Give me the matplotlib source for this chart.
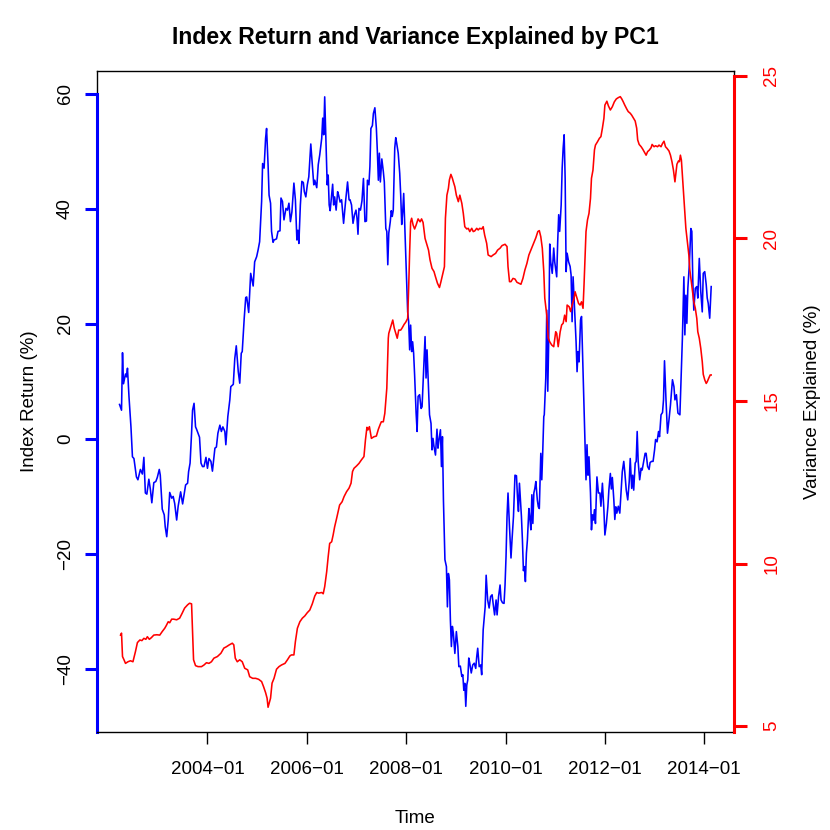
import matplotlib
matplotlib.use("Agg")
import matplotlib.pyplot as plt
from matplotlib.lines import Line2D

plt.rcParams['font.family'] = ['Liberation Sans', 'DejaVu Sans']

# Index return (%) : decimal year, value
ret_t = [2002.23, 2002.27, 2002.29, 2002.31, 2002.35, 2002.37, 2002.39, 2002.42, 2002.46, 2002.49,
         2002.52, 2002.57, 2002.60, 2002.65, 2002.69, 2002.72, 2002.75, 2002.78, 2002.82, 2002.85,
         2002.88, 2002.92, 2002.96, 2002.99, 2003.03, 2003.05, 2003.09, 2003.13, 2003.15, 2003.18,
         2003.21, 2003.24, 2003.28, 2003.31, 2003.34, 2003.38, 2003.41, 2003.46, 2003.50, 2003.53,
         2003.56, 2003.60, 2003.62, 2003.65, 2003.68, 2003.70, 2003.73, 2003.76, 2003.78, 2003.81,
         2003.84, 2003.87, 2003.90, 2003.93, 2003.97, 2004.00, 2004.03, 2004.07, 2004.10, 2004.15,
         2004.18, 2004.21, 2004.25, 2004.28, 2004.31, 2004.35, 2004.37, 2004.41, 2004.45, 2004.47,
         2004.52, 2004.55, 2004.58, 2004.62, 2004.65, 2004.68, 2004.70, 2004.74, 2004.77, 2004.79,
         2004.83, 2004.87, 2004.92, 2004.95, 2004.99, 2005.02, 2005.05, 2005.09, 2005.11, 2005.14,
         2005.17, 2005.19, 2005.22, 2005.24, 2005.27, 2005.29, 2005.32, 2005.34, 2005.39, 2005.42,
         2005.46, 2005.48, 2005.51, 2005.54, 2005.58, 2005.61, 2005.64, 2005.67, 2005.70, 2005.74,
         2005.77, 2005.80, 2005.82, 2005.84, 2005.87, 2005.90, 2005.93, 2005.95, 2005.98, 2006.01,
         2006.04, 2006.08, 2006.11, 2006.14, 2006.16, 2006.20, 2006.23, 2006.26, 2006.30, 2006.32,
         2006.34, 2006.36, 2006.39, 2006.41, 2006.43, 2006.45, 2006.47, 2006.50, 2006.52, 2006.54,
         2006.56, 2006.59, 2006.62, 2006.64, 2006.67, 2006.70, 2006.74, 2006.78, 2006.82, 2006.85,
         2006.87, 2006.90, 2006.93, 2006.96, 2006.99, 2007.01, 2007.03, 2007.05, 2007.08, 2007.11,
         2007.14, 2007.17, 2007.20, 2007.22, 2007.25, 2007.27, 2007.29, 2007.32, 2007.34, 2007.37,
         2007.40, 2007.42, 2007.44, 2007.46, 2007.48, 2007.51, 2007.54, 2007.56, 2007.59, 2007.61,
         2007.63, 2007.65, 2007.68, 2007.70, 2007.72, 2007.74, 2007.77, 2007.79, 2007.81, 2007.84,
         2007.87, 2007.89, 2007.91, 2007.93, 2007.95, 2007.97, 2007.99, 2008.01, 2008.03, 2008.05,
         2008.07, 2008.09, 2008.11, 2008.13, 2008.15, 2008.17, 2008.20, 2008.22, 2008.24, 2008.27,
         2008.30, 2008.32, 2008.35, 2008.38, 2008.40, 2008.42, 2008.44, 2008.47, 2008.50, 2008.52,
         2008.54, 2008.56, 2008.59, 2008.62, 2008.64, 2008.66, 2008.69, 2008.71, 2008.73, 2008.75,
         2008.78, 2008.81, 2008.83, 2008.85, 2008.87, 2008.89, 2008.91, 2008.93, 2008.95, 2008.98,
         2009.01, 2009.04, 2009.06, 2009.09, 2009.12, 2009.14, 2009.16, 2009.18, 2009.20, 2009.22,
         2009.24, 2009.26, 2009.28, 2009.31, 2009.34, 2009.37, 2009.40, 2009.42, 2009.44, 2009.47,
         2009.50, 2009.52, 2009.55, 2009.59, 2009.61, 2009.64, 2009.67, 2009.70, 2009.73, 2009.75,
         2009.78, 2009.81, 2009.83, 2009.86, 2009.89, 2009.91, 2009.94, 2009.97, 2009.99, 2010.01,
         2010.03, 2010.05, 2010.08, 2010.11, 2010.13, 2010.16, 2010.19, 2010.22, 2010.24, 2010.26,
         2010.28, 2010.30, 2010.32, 2010.34, 2010.36, 2010.38, 2010.40, 2010.42, 2010.44, 2010.47,
         2010.49, 2010.51, 2010.53, 2010.55, 2010.57, 2010.59, 2010.61, 2010.64, 2010.66, 2010.68,
         2010.71, 2010.73, 2010.75, 2010.77, 2010.78, 2010.81, 2010.83, 2010.85, 2010.87, 2010.89,
         2010.91, 2010.94, 2010.97, 2010.99, 2011.03, 2011.05, 2011.07, 2011.09, 2011.12, 2011.14,
         2011.16, 2011.18, 2011.20, 2011.22, 2011.24, 2011.27, 2011.30, 2011.32, 2011.34, 2011.36,
         2011.38, 2011.40, 2011.42, 2011.44, 2011.46, 2011.48, 2011.51, 2011.53, 2011.56, 2011.58,
         2011.60, 2011.62, 2011.64, 2011.66, 2011.68, 2011.71, 2011.73, 2011.75, 2011.77, 2011.79,
         2011.81, 2011.84, 2011.87, 2011.90, 2011.92, 2011.95, 2011.98, 2012.00, 2012.03, 2012.06,
         2012.08, 2012.11, 2012.13, 2012.15, 2012.18, 2012.20, 2012.22, 2012.24, 2012.27, 2012.30,
         2012.32, 2012.35, 2012.38, 2012.40, 2012.43, 2012.46, 2012.49, 2012.51, 2012.54, 2012.56,
         2012.58, 2012.61, 2012.63, 2012.65, 2012.67, 2012.70, 2012.73, 2012.75, 2012.78, 2012.81,
         2012.83, 2012.86, 2012.89, 2012.91, 2012.94, 2012.97, 2013.00, 2013.02, 2013.05, 2013.08,
         2013.10, 2013.13, 2013.16, 2013.18, 2013.20, 2013.23, 2013.26, 2013.29, 2013.32, 2013.36,
         2013.39, 2013.41, 2013.44, 2013.47, 2013.51, 2013.53, 2013.56, 2013.59, 2013.61, 2013.63,
         2013.65, 2013.67, 2013.70, 2013.73, 2013.75, 2013.77, 2013.79, 2013.82, 2013.85, 2013.87,
         2013.90, 2013.93, 2013.96, 2013.98, 2014.01, 2014.04, 2014.06, 2014.08, 2014.11, 2014.14]
ret_v = [6.0, 5.0, 15.0, 9.6, 11.3, 10.8, 12.3, 7.4, 2.1, -3.1,
         -3.4, -6.6, -7.1, -5.3, -6.1, -3.2, -9.4, -9.6, -7.0, -8.7,
         -11.1, -7.6, -7.4, -6.7, -5.3, -6.3, -12.2, -13.2, -15.3, -17.0,
         -14.1, -9.3, -10.3, -10.0, -11.2, -14.1, -11.7, -9.2, -11.3, -9.7,
         -8.0, -7.7, -5.7, -4.2, 1.0, 5.0, 6.2, 2.1, 1.7, 1.0,
         0.3, -4.2, -4.8, -4.8, -3.2, -5.1, -3.4, -3.9, -5.6, -1.6,
         -1.4, 1.0, 2.4, 1.3, 2.1, 1.3, -1.0, 3.9, 6.8, 9.1,
         9.5, 14.0, 16.2, 11.7, 9.7, 14.9, 15.2, 21.0, 24.6, 24.7,
         22.0, 28.8, 26.6, 30.8, 31.7, 32.9, 34.3, 41.3, 47.9, 47.1,
         52.3, 54.0, 47.7, 42.4, 41.0, 36.1, 34.2, 34.6, 34.8, 36.1,
         36.2, 41.9, 41.3, 38.1, 40.1, 39.8, 41.0, 37.8, 39.5, 44.5,
         41.6, 34.6, 36.3, 34.0, 40.7, 44.8, 44.6, 43.0, 42.1, 44.2,
         45.6, 51.3, 47.7, 44.2, 45.0, 43.7, 47.7, 49.4, 52.3, 55.8,
         52.9, 59.5, 50.6, 44.2, 45.9, 40.7, 39.7, 42.4, 44.3, 40.7,
         42.1, 39.8, 43.0, 42.4, 41.2, 41.6, 37.5, 41.3, 44.7, 41.6,
         41.6, 40.7, 37.5, 39.0, 39.8, 38.4, 35.6, 40.1, 39.8, 41.4,
         45.3, 37.8, 37.9, 45.0, 44.2, 47.4, 54.0, 54.5, 56.6, 57.6,
         54.0, 50.0, 45.0, 49.7, 44.7, 48.7, 46.5, 44.7, 36.6, 36.1,
         30.3, 35.8, 37.8, 39.7, 38.7, 39.8, 50.6, 52.4, 51.4, 49.7,
         46.2, 42.4, 37.3, 39.5, 42.7, 37.5, 32.0, 27.4, 22.1, 20.4,
         15.5, 19.8, 15.2, 16.9, 14.9, 11.1, 4.5, 1.3, 7.4, 7.7,
         5.3, 5.6, 11.7, 17.8, 10.6, 15.5, 11.1, 4.2, 2.7, -1.9,
         0.1, -1.3, -2.8, 1.7, -1.6, -0.2, 1.6, -4.8, 0.4, -10.6,
         -21.0, -22.2, -29.2, -23.4, -24.5, -31.5, -36.1, -32.6, -33.8, -37.3,
         -33.5, -36.1, -39.6, -39.5, -41.3, -41.0, -43.7, -42.5, -46.5, -42.8,
         -41.9, -38.1, -39.0, -40.7, -39.3, -39.0, -39.9, -37.9, -36.4, -39.6,
         -39.3, -41.0, -33.2, -29.2, -23.7, -28.0, -29.4, -27.4, -27.1, -28.6,
         -30.6, -28.0, -30.6, -27.4, -25.4, -28.0, -28.5, -28.6, -25.4, -20.5,
         -13.5, -9.4, -15.3, -20.7, -17.6, -13.5, -6.3, -6.4, -10.0, -12.6,
         -7.7, -10.6, -13.5, -17.6, -22.9, -22.2, -24.8, -19.9, -17.6, -12.1,
         -13.8, -15.8, -9.7, -14.7, -9.4, -8.6, -7.4, -10.6, -11.8, -12.1,
         -2.5, -7.1, -1.9, 3.9, 4.2, 10.6, 22.4, 8.3, 17.5, 33.9,
         30.8, 28.8, 33.2, 30.8, 28.2, 34.3, 39.0, 36.1, 40.7, 47.1,
         50.6, 52.9, 45.3, 29.1, 32.3, 30.8, 30.0, 28.5, 20.4, 28.2,
         24.5, 21.0, 16.9, 11.7, 15.2, 13.4, 20.7, 21.3, 12.0, 5.5,
         -0.7, -7.1, -1.0, -6.3, -3.1, -9.4, -15.8, -13.2, -14.1, -12.3,
         -14.7, -6.6, -9.4, -9.4, -11.7, -7.7, -12.3, -16.7, -14.7, -11.8,
         -8.9, -6.0, -8.7, -6.7, -10.6, -14.0, -11.8, -12.9, -11.7, -12.9,
         -10.0, -5.7, -3.9, -5.7, -8.9, -10.6, -7.4, -3.4, -8.6, -6.3,
         -8.9, -4.2, -3.9, 1.3, -3.9, -7.1, -5.1, -5.4, -3.9, -2.5,
         -2.5, -4.8, -5.3, -4.1, -3.9, -3.9, -1.9, -0.1, -0.5, 1.3,
         0.4, 4.2, 4.6, 6.8, 13.6, 6.8, 1.0, 3.3, 5.9, 10.3,
         9.1, 6.8, 7.7, 4.5, 4.2, 9.4, 17.5, 28.2, 18.1, 25.0,
         20.1, 26.2, 30.3, 36.6, 36.1, 27.4, 22.4, 26.2, 26.5, 24.5,
         31.4, 25.6, 22.1, 28.8, 29.1, 26.8, 24.5, 23.6, 21.0, 26.5]

# Variance explained by PC1 (%) : decimal year, value
var_t = [2002.25, 2002.27, 2002.29, 2002.32, 2002.35, 2002.40, 2002.45, 2002.50, 2002.55, 2002.59,
         2002.64, 2002.68, 2002.72, 2002.76, 2002.79, 2002.83, 2002.87, 2002.92, 2002.98, 2003.04,
         2003.09, 2003.14, 2003.17, 2003.21, 2003.24, 2003.28, 2003.32, 2003.38, 2003.44, 2003.49,
         2003.54, 2003.60, 2003.64, 2003.68, 2003.70, 2003.72, 2003.76, 2003.81, 2003.88, 2003.93,
         2003.98, 2004.03, 2004.08, 2004.13, 2004.20, 2004.27, 2004.33, 2004.38, 2004.44, 2004.50,
         2004.53, 2004.56, 2004.60, 2004.65, 2004.70, 2004.75, 2004.81, 2004.85, 2004.91, 2004.97,
         2005.03, 2005.09, 2005.13, 2005.17, 2005.20, 2005.22, 2005.25, 2005.27, 2005.30, 2005.34,
         2005.39, 2005.44, 2005.49, 2005.56, 2005.61, 2005.66, 2005.69, 2005.74, 2005.77, 2005.81,
         2005.86, 2005.91, 2005.96, 2006.01, 2006.06, 2006.11, 2006.16, 2006.20, 2006.24, 2006.30,
         2006.33, 2006.36, 2006.40, 2006.43, 2006.46, 2006.50, 2006.53, 2006.56, 2006.60, 2006.63,
         2006.66, 2006.71, 2006.75, 2006.80, 2006.85, 2006.89, 2006.92, 2006.95, 2007.00, 2007.05,
         2007.10, 2007.15, 2007.18, 2007.21, 2007.23, 2007.26, 2007.30, 2007.35, 2007.40, 2007.44,
         2007.48, 2007.50, 2007.54, 2007.57, 2007.61, 2007.64, 2007.65, 2007.69, 2007.73, 2007.76,
         2007.79, 2007.82, 2007.85, 2007.89, 2007.92, 2007.96, 2007.99, 2008.03, 2008.05, 2008.07,
         2008.09, 2008.11, 2008.14, 2008.17, 2008.20, 2008.24, 2008.28, 2008.31, 2008.34, 2008.38,
         2008.42, 2008.45, 2008.48, 2008.52, 2008.56, 2008.59, 2008.63, 2008.67, 2008.70, 2008.74,
         2008.77, 2008.79, 2008.82, 2008.85, 2008.87, 2008.90, 2008.93, 2008.95, 2008.98, 2009.01,
         2009.05, 2009.08, 2009.12, 2009.15, 2009.18, 2009.22, 2009.25, 2009.28, 2009.32, 2009.35,
         2009.38, 2009.42, 2009.45, 2009.48, 2009.52, 2009.55, 2009.58, 2009.62, 2009.65, 2009.71,
         2009.75, 2009.80, 2009.84, 2009.89, 2009.93, 2009.99, 2010.03, 2010.05, 2010.08, 2010.11,
         2010.15, 2010.19, 2010.23, 2010.27, 2010.31, 2010.35, 2010.39, 2010.43, 2010.47, 2010.51,
         2010.56, 2010.61, 2010.65, 2010.68, 2010.71, 2010.74, 2010.77, 2010.79, 2010.83, 2010.86,
         2010.89, 2010.93, 2010.97, 2011.01, 2011.03, 2011.06, 2011.10, 2011.13, 2011.16, 2011.19,
         2011.22, 2011.24, 2011.28, 2011.31, 2011.34, 2011.38, 2011.40, 2011.44, 2011.47, 2011.50,
         2011.53, 2011.56, 2011.58, 2011.60, 2011.62, 2011.65, 2011.68, 2011.71, 2011.73, 2011.76,
         2011.79, 2011.81, 2011.85, 2011.89, 2011.92, 2011.95, 2011.98, 2012.00, 2012.04, 2012.07,
         2012.11, 2012.15, 2012.19, 2012.23, 2012.27, 2012.31, 2012.34, 2012.37, 2012.40, 2012.44,
         2012.47, 2012.51, 2012.54, 2012.57, 2012.61, 2012.64, 2012.66, 2012.69, 2012.73, 2012.76,
         2012.79, 2012.83, 2012.86, 2012.89, 2012.93, 2012.95, 2012.99, 2013.02, 2013.06, 2013.09,
         2013.13, 2013.16, 2013.19, 2013.22, 2013.25, 2013.29, 2013.32, 2013.35, 2013.38, 2013.41,
         2013.43, 2013.45, 2013.48, 2013.50, 2013.52, 2013.54, 2013.56, 2013.58, 2013.61, 2013.63,
         2013.66, 2013.69, 2013.71, 2013.74, 2013.77, 2013.79, 2013.82, 2013.85, 2013.87, 2013.90,
         2013.93, 2013.96, 2013.98, 2014.01, 2014.04, 2014.06, 2014.09, 2014.12, 2014.14]
var_v = [7.80, 7.86, 7.14, 7.04, 6.93, 6.98, 7.01, 6.98, 7.29, 7.57,
         7.65, 7.63, 7.70, 7.67, 7.75, 7.67, 7.72, 7.80, 7.81, 7.80,
         7.91, 8.01, 8.09, 8.21, 8.18, 8.29, 8.29, 8.27, 8.32, 8.47,
         8.63, 8.73, 8.78, 8.76, 7.86, 7.04, 6.86, 6.83, 6.83, 6.88,
         6.95, 6.93, 6.98, 7.09, 7.14, 7.24, 7.40, 7.44, 7.50, 7.55,
         7.50, 7.09, 6.98, 7.04, 6.98, 6.78, 6.73, 6.52, 6.47, 6.47,
         6.44, 6.37, 6.21, 6.03, 5.86, 5.58, 5.75, 5.86, 6.32, 6.47,
         6.75, 6.83, 6.88, 6.93, 7.04, 7.16, 7.19, 7.19, 7.60, 8.01,
         8.21, 8.32, 8.39, 8.49, 8.57, 8.76, 9.00, 9.11, 9.09, 9.11,
         9.07, 9.29, 9.75, 10.21, 10.62, 10.67, 10.88, 11.13, 11.39, 11.60,
         11.80, 11.90, 12.06, 12.21, 12.32, 12.47, 12.83, 12.93, 13.00, 13.08,
         13.19, 13.29, 13.80, 14.19, 14.11, 14.21, 13.85, 13.90, 13.92, 14.13,
         14.29, 14.36, 14.36, 14.62, 15.39, 16.93, 17.08, 17.29, 17.49, 17.24,
         17.08, 16.93, 17.18, 17.18, 17.25, 17.36, 17.42, 17.54, 18.47, 19.59,
         20.51, 20.62, 20.41, 20.29, 20.41, 20.60, 20.51, 20.60, 20.49, 20.00,
         19.80, 19.64, 19.34, 19.08, 18.98, 18.82, 18.62, 18.49, 18.67, 18.93,
         19.13, 20.62, 21.33, 21.54, 21.80, 21.97, 21.85, 21.74, 21.59, 21.33,
         21.13, 21.33, 21.08, 20.77, 20.36, 20.29, 20.31, 20.21, 20.31, 20.21,
         20.23, 20.31, 20.26, 20.31, 20.29, 20.36, 20.10, 19.85, 19.49, 19.44,
         19.49, 19.54, 19.64, 19.70, 19.78, 19.82, 19.75, 19.13, 18.67, 18.67,
         18.77, 18.75, 18.65, 18.62, 18.59, 18.77, 19.03, 19.23, 19.49, 19.64,
         19.82, 20.02, 20.21, 20.24, 20.05, 19.70, 18.98, 18.16, 17.64, 16.93,
         16.82, 16.72, 16.67, 17.13, 17.08, 16.67, 17.13, 17.34, 17.39, 17.64,
         17.44, 17.95, 17.90, 17.75, 17.95, 18.16, 18.36, 18.16, 18.00, 17.95,
         18.05, 17.85, 18.57, 19.39, 20.21, 20.57, 20.77, 21.23, 21.85, 22.10,
         22.72, 22.87, 22.97, 23.08, 23.13, 23.39, 23.69, 24.10, 24.22, 24.08,
         23.95, 24.05, 24.20, 24.29, 24.33, 24.36, 24.29, 24.20, 24.10, 23.98,
         23.90, 23.85, 23.79, 23.71, 23.61, 23.39, 23.03, 22.89, 22.82, 22.75,
         22.67, 22.56, 22.67, 22.71, 22.79, 22.89, 22.82, 22.85, 22.82, 22.87,
         22.82, 22.92, 22.99, 22.82, 22.77, 22.69, 22.56, 22.36, 22.10, 21.74,
         22.00, 22.28, 22.38, 22.36, 22.56, 22.41, 21.95, 21.44, 20.82, 20.31,
         19.90, 19.49, 19.03, 18.67, 18.31, 18.05, 17.85, 17.54, 17.13, 16.93,
         16.62, 16.21, 15.82, 15.65, 15.54, 15.59, 15.70, 15.80, 15.80]

x_ticks = [2004, 2006, 2008, 2010, 2012, 2014]
x_labels = ["2004\u221201", "2006\u221201", "2008\u221201", "2010\u221201", "2012\u221201", "2014\u221201"]
ret_ticks = [-40, -20, 0, 20, 40, 60]
var_ticks = [5, 10, 15, 20, 25]

XLIM = (2001.777, 2014.600)
YLIM1 = (-50.96, 64.0)
YLIM2 = (4.82, 25.15)

FS = 13.5
fig = plt.figure(figsize=(8.3, 8.3), dpi=100)
ax1 = fig.add_axes([0.1169, 0.1181, 0.7675, 0.7964])
ax2 = ax1.twinx()

ax1.plot(ret_t, ret_v, color='#0000FF', lw=1.15, solid_joinstyle='round')
ax2.plot(var_t, var_v, color='#FF0000', lw=1.15, solid_joinstyle='round')

ax1.set_xlim(*XLIM)
ax1.set_ylim(*YLIM1)
ax2.set_ylim(*YLIM2)

# x axis
ax1.set_xticks(x_ticks)
ax1.set_xticklabels(x_labels)
ax1.tick_params(axis='x', length=8.5, width=1.0, color='black', labelsize=FS, pad=12.5)

# left axis
ax1.set_yticks(ret_ticks)
ax1.set_yticklabels([str(v).replace('-', '\u2212') for v in ret_ticks], rotation=90, va='center')
ax1.tick_params(axis='y', length=9.0, width=2.2, color='#0000FF', labelcolor='black',
                labelsize=FS, pad=7.5)

# right axis
ax2.set_yticks(var_ticks)
ax2.set_yticklabels([str(v) for v in var_ticks], rotation=90, va='center')
ax2.tick_params(axis='y', length=9.0, width=2.2, color='#FF0000', labelcolor='#FF0000',
                labelsize=FS, pad=12.0)

for s in ['top', 'bottom']:
    ax1.spines[s].set_color('black')
    ax1.spines[s].set_linewidth(1.0)
ax1.spines['right'].set_visible(False)
ax1.spines['left'].set_color('#0000FF')
ax1.spines['left'].set_linewidth(2.2)
ax1.spines['left'].set_bounds(YLIM1[0], 60)
for s in ['top', 'bottom', 'left']:
    ax2.spines[s].set_visible(False)
ax2.spines['right'].set_color('#FF0000')
ax2.spines['right'].set_linewidth(2.2)
ax2.spines['right'].set_bounds(YLIM2[0], 25)

# remaining black parts of the box
ax1.add_line(Line2D([XLIM[0], XLIM[0]], [60, YLIM1[1]], color='black', lw=1.0, clip_on=False))
ax2.add_line(Line2D([XLIM[1], XLIM[1]], [25, YLIM2[1]], color='black', lw=1.0, clip_on=False))

fig.text(0.5006, 0.9548, "Index Return and Variance Explained by PC1", ha='center', va='center',
         fontsize=16.6, fontweight='bold')
fig.text(0.5006, 0.0140, "Time", ha='center', va='center', fontsize=FS)
fig.text(0.036, 0.5163, "Index Return (%)", ha='center', va='center', rotation=90, fontsize=FS)
fig.text(0.979, 0.5163, "Variance Explained (%)", ha='center', va='center', rotation=90, fontsize=FS)

fig.savefig("out.png", dpi=100)
